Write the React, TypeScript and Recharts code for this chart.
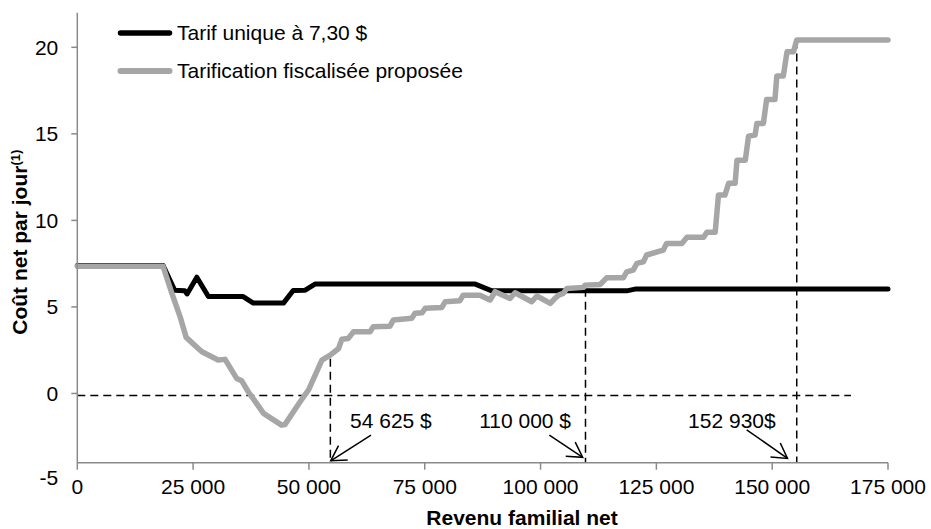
import React from 'react';
import { LineChart, Line, XAxis, YAxis, ReferenceLine, ReferenceDot, Legend } from 'recharts';

const FONT = '"Liberation Sans", Arial, sans-serif';
const AXIS_COLOR = '#8a8a8a';

// Series names / colours
const seriesNames = ['Tarif unique à 7,30 $', 'Tarification fiscalisée proposée'];
const seriesColors = ['#000000', '#a6a6a6'];
const seriesWidths = [5, 5.5];

// Tarif unique à 7,30 $
const incomeUnique = [0, 18500, 21000, 23200, 23700, 25800, 28300, 35800, 38000, 44500, 46600, 49200, 51300, 85900, 89500, 118600, 120400, 175000];
const costUnique = [7.4, 7.4, 5.97, 5.93, 5.75, 6.72, 5.6, 5.6, 5.22, 5.22, 5.95, 5.97, 6.32, 6.32, 5.93, 5.93, 6.03, 6.03];

// Tarification fiscalisée proposée
const incomeProposed = [
  0, 18500, 20400, 22200, 23500, 26100, 26900, 30400, 31900, 34400, 35500, 36900, 40200, 44100, 44800,
  48100, 49900, 52800, 54600, 56400, 57100, 58500, 59600, 63200, 63900, 67500, 68200, 72200, 72900,
  74400, 75100, 78700, 79400, 82600, 83300, 86900, 89100, 90200, 93400, 94500, 98100, 99200, 102100,
  103100, 103900, 104900, 105700, 109300, 109600, 112900, 114300, 117900, 118600, 120000, 120800,
  122200, 122900, 126500, 127200, 130500, 131600, 135200, 135900, 137700, 138400, 139800, 140600,
  142000, 142400, 144200, 144900, 146300, 146700, 148100, 148800, 150600, 151000, 152400, 153200,
  154600, 155300, 175000,
];
const costProposed = [
  7.35, 7.35, 5.8, 4.43, 3.24, 2.6, 2.41, 1.93, 1.97, 0.87, 0.73, 0.1, -1.15, -1.83, -1.8,
  -0.48, 0.2, 1.93, 2.22, 2.6, 3.13, 3.18, 3.56, 3.56, 3.85, 3.89, 4.24, 4.34, 4.63,
  4.66, 4.92, 4.97, 5.3, 5.36, 5.68, 5.68, 5.4, 5.88, 5.49, 5.82, 5.3, 5.63, 5.2,
  5.49, 5.68, 5.78, 6.07, 6.13, 6.26, 6.3, 6.69, 6.69, 7.03, 7.13, 7.52,
  7.61, 8.0, 8.28, 8.67, 8.67, 9.02, 9.02, 9.31, 9.31, 11.46, 11.46, 12.14,
  12.14, 13.48, 13.48, 14.87, 14.93, 15.6, 15.6, 16.99, 16.99, 18.34, 18.34, 19.74,
  19.74, 20.42, 20.42,
];

// Axes
const xTicks = [0, 25000, 50000, 75000, 100000, 125000, 150000, 175000];
const yTicks = [-4, 0, 5, 10, 15, 20];
const yDomain = [-4, 22];
const xDomain = [0, 175000];
const yFloorLabel = '-5';

// Annotations
const zeroLineLevel = -0.12;
const zeroLineEnd = 167000;
const dropIncomes = [54625, 109700, 155300];
const dropTops = [2.0, 6.05, 20.4];
const arrowTailIncomes = [63400, 101900, 144500];
const arrowTailCosts = [-2.4, -2.4, -2.1];
const arrowTipIncomes = [54700, 109100, 153300];
const arrowTipCosts = [-3.89, -3.69, -3.75];
const noteLabels = ['54 625 $', '110 000 $', '152 930$'];
const noteIncomes = [67700, 96660, 141300];
const noteCost = -1.57;

const dataUnique = incomeUnique.map((income, i) => ({ income, cost: costUnique[i] }));
const dataProposed = incomeProposed.map((income, i) => ({ income, cost: costProposed[i] }));

const formatThousands = (v: number) => String(v).replace(/\B(?=(\d{3})+(?!\d))/g, ' ');

const YTick = (props: any) => {
  const { x, y, payload } = props;
  const v = payload.value;
  const isFloor = v === yTicks[0];
  return (
    <g>
      {!isFloor && <line x1={x + 13} x2={x + 19} y1={y} y2={y} stroke={AXIS_COLOR} strokeWidth={1.5} />}
      <text x={x} y={isFloor ? y + 15 : y} dy="0.355em" textAnchor="end" fontSize={21} fontFamily={FONT} fill="#000">
        {isFloor ? yFloorLabel : String(v)}
      </text>
    </g>
  );
};

const ArrowShape = (props: any) => {
  const { x1, y1, x2, y2 } = props;
  const ang = Math.atan2(y2 - y1, x2 - x1);
  const len = 17;
  const spread = (30 * Math.PI) / 180;
  const ax = x2 - len * Math.cos(ang - spread);
  const ay = y2 - len * Math.sin(ang - spread);
  const bx = x2 - len * Math.cos(ang + spread);
  const by = y2 - len * Math.sin(ang + spread);
  return (
    <g>
      <line x1={x1} y1={y1} x2={x2} y2={y2} stroke="#000" strokeWidth={1.5} />
      <path d={`M${ax},${ay} L${x2},${y2} L${bx},${by}`} fill="none" stroke="#000" strokeWidth={1.5} />
    </g>
  );
};

const NoteText = (text: string) => (props: any) => (
  <text x={props.cx} y={props.cy} dy="0.355em" textAnchor="middle" fontSize={21} fontFamily={FONT} fill="#000">
    {text}
  </text>
);

const YTitle = (props: any) => {
  const vb = props.viewBox || { x: 0, y: 12.7, width: 77.3, height: 450 };
  const cx = vb.x + 27;
  const cy = vb.y + vb.height / 2 + 4.5;
  return (
    <text
      x={cx}
      y={cy}
      transform={`rotate(-90, ${cx}, ${cy})`}
      textAnchor="middle"
      fontSize={21}
      fontWeight="bold"
      fontFamily={FONT}
      fill="#000"
    >
      Coût net par jour
      <tspan fontSize={13} dy={-7}>(1)</tspan>
    </text>
  );
};

const XTitle = (props: any) => {
  const vb = props.viewBox || { x: 77.3, y: 462.7, width: 810.7, height: 66.3 };
  return (
    <text
      x={vb.x + vb.width / 2 + 39.4}
      y={vb.y + vb.height - 4}
      textAnchor="middle"
      fontSize={21}
      fontWeight="bold"
      fontFamily={FONT}
      fill="#000"
    >
      Revenu familial net
    </text>
  );
};

const LegendBox = () => (
  <div style={{ fontFamily: FONT, fontSize: 21, color: '#000' }}>
    {seriesNames.map((name, i) => (
      <div key={name} style={{ display: 'flex', alignItems: 'center', height: 38, whiteSpace: 'nowrap' }}>
        <svg width={56} height={12} style={{ display: 'block' }}>
          <line x1={3.5} x2={52.5} y1={6} y2={6} stroke={seriesColors[i]} strokeWidth={seriesWidths[i] + 0.5} strokeLinecap="round" />
        </svg>
        <span style={{ marginLeft: 4 }}>{name}</span>
      </div>
    ))}
  </div>
);

export default function App() {
  return (
    <div style={{ position: 'absolute', left: 0, top: 0 }}>
      <LineChart width={931} height={529} margin={{ top: 12.7, right: 43, bottom: 0, left: 0 }}>
        <XAxis
          type="number"
          dataKey="income"
          domain={xDomain}
          ticks={xTicks}
          allowDuplicatedCategory={false}
          tickFormatter={formatThousands}
          tick={{ fontSize: 21, fill: '#000', fontFamily: FONT }}
          tickSize={7}
          tickMargin={9.4}
          height={66.3}
          stroke={AXIS_COLOR}
          strokeWidth={1.5}
          label={{ content: XTitle }}
        />
        <YAxis
          type="number"
          domain={yDomain}
          ticks={yTicks}
          width={77.3}
          tick={<YTick />}
          tickLine={false}
          tickSize={6}
          tickMargin={13}
          stroke={AXIS_COLOR}
          strokeWidth={1.5}
          label={{ content: YTitle }}
        />
        <Legend
          layout="vertical"
          align="center"
          verticalAlign="middle"
          wrapperStyle={{ left: 117, top: 14.3 }}
          content={() => <LegendBox />}
        />
        <ReferenceLine
          segment={[{ x: 0, y: zeroLineLevel }, { x: zeroLineEnd, y: zeroLineLevel }]}
          stroke="#000"
          strokeWidth={1.5}
          strokeDasharray="8 5"
        />
        {dropIncomes.map((x, i) => (
          <ReferenceLine
            key={'drop' + i}
            segment={[{ x, y: dropTops[i] }, { x, y: yDomain[0] }]}
            stroke="#000"
            strokeWidth={1.5}
            strokeDasharray="8 5"
          />
        ))}
        {arrowTailIncomes.map((x, i) => (
          <ReferenceLine
            key={'arrow' + i}
            segment={[{ x, y: arrowTailCosts[i] }, { x: arrowTipIncomes[i], y: arrowTipCosts[i] }]}
            shape={ArrowShape}
          />
        ))}
        {noteLabels.map((t, i) => (
          <ReferenceDot key={'note' + i} x={noteIncomes[i]} y={noteCost} r={1} shape={NoteText(t)} />
        ))}
        <Line
          data={dataUnique}
          dataKey="cost"
          name={seriesNames[0]}
          type="linear"
          stroke={seriesColors[0]}
          strokeWidth={seriesWidths[0]}
          strokeLinecap="round"
          strokeLinejoin="round"
          dot={false}
          activeDot={false}
          isAnimationActive={false}
        />
        <Line
          data={dataProposed}
          dataKey="cost"
          name={seriesNames[1]}
          type="linear"
          stroke={seriesColors[1]}
          strokeWidth={seriesWidths[1]}
          strokeLinecap="round"
          strokeLinejoin="round"
          dot={false}
          activeDot={false}
          isAnimationActive={false}
        />
      </LineChart>
    </div>
  );
}
